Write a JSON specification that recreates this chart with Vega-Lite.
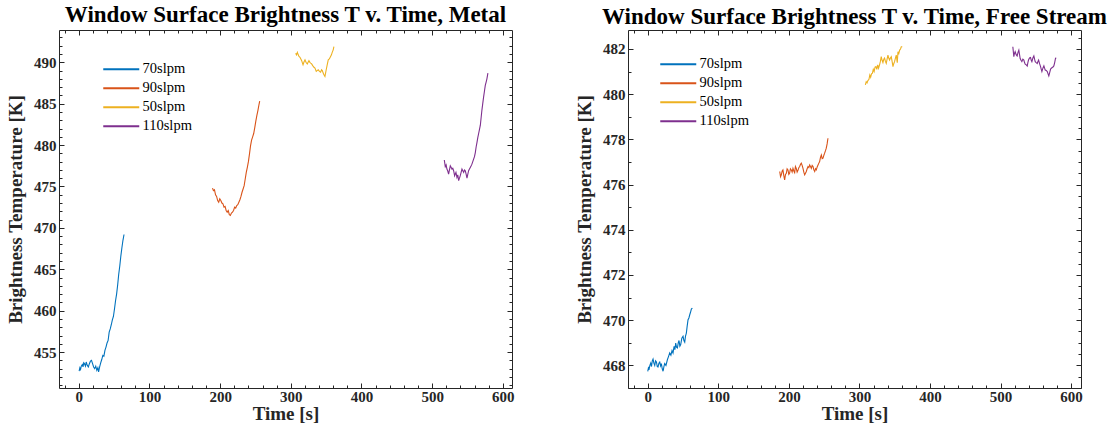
{
  "$schema": "https://vega.github.io/schema/vega-lite/v6.json",
  "background": "white",
  "padding": {"left": 6, "top": 3, "right": 0, "bottom": 0},
  "autosize": {"type": "pad"},
  "spacing": 60,
  "datasets": {
    "metal": [
      {"s":"70slpm","t":0.5,"T":452.7},{"s":"70slpm","t":1.5,"T":453.1},{"s":"70slpm","t":2.5,"T":452.9},{"s":"70slpm","t":3.5,"T":453.3},{"s":"70slpm","t":5,"T":453.5},{"s":"70slpm","t":6,"T":453.2},{"s":"70slpm","t":7,"T":453.7},{"s":"70slpm","t":8,"T":453.6},{"s":"70slpm","t":9.5,"T":453.3},{"s":"70slpm","t":10.5,"T":453.8},{"s":"70slpm","t":12,"T":453.4},{"s":"70slpm","t":13.5,"T":453.2},{"s":"70slpm","t":15,"T":453.6},{"s":"70slpm","t":16.5,"T":453.9},{"s":"70slpm","t":18,"T":454.0},{"s":"70slpm","t":19.5,"T":453.6},{"s":"70slpm","t":21,"T":453.2},{"s":"70slpm","t":22.5,"T":453.0},{"s":"70slpm","t":24,"T":453.3},{"s":"70slpm","t":25.5,"T":452.8},{"s":"70slpm","t":27,"T":453.1},{"s":"70slpm","t":28,"T":452.6},{"s":"70slpm","t":29.5,"T":453.2},{"s":"70slpm","t":31,"T":453.7},{"s":"70slpm","t":32.5,"T":454.1},{"s":"70slpm","t":34,"T":454.6},{"s":"70slpm","t":35.5,"T":454.5},{"s":"70slpm","t":37,"T":455.2},{"s":"70slpm","t":38.5,"T":455.6},{"s":"70slpm","t":40,"T":456.1},{"s":"70slpm","t":41.5,"T":456.4},{"s":"70slpm","t":43,"T":457.4},{"s":"70slpm","t":44.5,"T":457.8},{"s":"70slpm","t":46,"T":458.3},{"s":"70slpm","t":47.5,"T":458.9},{"s":"70slpm","t":49,"T":459.3},{"s":"70slpm","t":50.5,"T":460.2},{"s":"70slpm","t":52,"T":461.2},{"s":"70slpm","t":53.5,"T":462.0},{"s":"70slpm","t":55,"T":463.1},{"s":"70slpm","t":56.5,"T":464.4},{"s":"70slpm","t":58,"T":465.4},{"s":"70slpm","t":59.5,"T":466.6},{"s":"70slpm","t":61,"T":467.6},{"s":"70slpm","t":62.5,"T":468.5},{"s":"70slpm","t":64,"T":469.2},
      {"s":"90slpm","t":189.2,"T":474.8},{"s":"90slpm","t":190.5,"T":474.5},{"s":"90slpm","t":192,"T":474.6},{"s":"90slpm","t":193.5,"T":474.0},{"s":"90slpm","t":195,"T":473.8},{"s":"90slpm","t":196.5,"T":473.3},{"s":"90slpm","t":198,"T":473.1},{"s":"90slpm","t":199.5,"T":473.5},{"s":"90slpm","t":201,"T":473.3},{"s":"90slpm","t":202.5,"T":473.0},{"s":"90slpm","t":204,"T":472.9},{"s":"90slpm","t":205.5,"T":472.5},{"s":"90slpm","t":207,"T":472.6},{"s":"90slpm","t":208.5,"T":472.1},{"s":"90slpm","t":210,"T":471.9},{"s":"90slpm","t":211.5,"T":472.1},{"s":"90slpm","t":213,"T":471.6},{"s":"90slpm","t":214.5,"T":471.5},{"s":"90slpm","t":216,"T":471.8},{"s":"90slpm","t":217.5,"T":471.9},{"s":"90slpm","t":219,"T":472.1},{"s":"90slpm","t":220.5,"T":472.5},{"s":"90slpm","t":222,"T":472.4},{"s":"90slpm","t":223.5,"T":472.7},{"s":"90slpm","t":225,"T":472.8},{"s":"90slpm","t":226.5,"T":473.1},{"s":"90slpm","t":228,"T":473.4},{"s":"90slpm","t":229.5,"T":473.8},{"s":"90slpm","t":231,"T":474.3},{"s":"90slpm","t":232.5,"T":474.7},{"s":"90slpm","t":234,"T":475.1},{"s":"90slpm","t":235.5,"T":475.9},{"s":"90slpm","t":237,"T":476.7},{"s":"90slpm","t":238.5,"T":477.3},{"s":"90slpm","t":240,"T":478.0},{"s":"90slpm","t":241.5,"T":478.9},{"s":"90slpm","t":243,"T":479.9},{"s":"90slpm","t":244.5,"T":480.6},{"s":"90slpm","t":246,"T":481.0},{"s":"90slpm","t":247.5,"T":481.4},{"s":"90slpm","t":249,"T":482.1},{"s":"90slpm","t":250.5,"T":482.9},{"s":"90slpm","t":252,"T":483.6},{"s":"90slpm","t":253.5,"T":484.2},{"s":"90slpm","t":255,"T":484.9},{"s":"90slpm","t":256,"T":485.3},
      {"s":"50slpm","t":306.9,"T":491.1},{"s":"50slpm","t":308,"T":490.9},{"s":"50slpm","t":309.3,"T":491.2},{"s":"50slpm","t":310.5,"T":490.9},{"s":"50slpm","t":311.6,"T":490.7},{"s":"50slpm","t":313,"T":490.6},{"s":"50slpm","t":314.2,"T":490.4},{"s":"50slpm","t":315.4,"T":490.2},{"s":"50slpm","t":316.5,"T":489.9},{"s":"50slpm","t":317.3,"T":489.7},{"s":"50slpm","t":318.5,"T":490.0},{"s":"50slpm","t":320.1,"T":490.3},{"s":"50slpm","t":321.5,"T":490.0},{"s":"50slpm","t":323.3,"T":489.8},{"s":"50slpm","t":324.5,"T":490.0},{"s":"50slpm","t":325.7,"T":490.2},{"s":"50slpm","t":327,"T":490.0},{"s":"50slpm","t":328.2,"T":489.9},{"s":"50slpm","t":329.5,"T":489.8},{"s":"50slpm","t":331,"T":489.6},{"s":"50slpm","t":332.8,"T":489.4},{"s":"50slpm","t":334.2,"T":489.3},{"s":"50slpm","t":336,"T":488.9},{"s":"50slpm","t":337.2,"T":489.0},{"s":"50slpm","t":338.8,"T":489.1},{"s":"50slpm","t":340.5,"T":488.9},{"s":"50slpm","t":342.2,"T":488.8},{"s":"50slpm","t":343.5,"T":489.1},{"s":"50slpm","t":344.6,"T":489.0},{"s":"50slpm","t":345.8,"T":488.7},{"s":"50slpm","t":346.9,"T":488.5},{"s":"50slpm","t":348.3,"T":488.3},{"s":"50slpm","t":349.2,"T":488.7},{"s":"50slpm","t":350.1,"T":489.1},{"s":"50slpm","t":351.5,"T":489.7},{"s":"50slpm","t":353,"T":490.3},{"s":"50slpm","t":354.5,"T":490.4},{"s":"50slpm","t":356.3,"T":490.7},{"s":"50slpm","t":357.5,"T":490.9},{"s":"50slpm","t":358.6,"T":491.2},{"s":"50slpm","t":360,"T":491.5},{"s":"50slpm","t":361,"T":491.9},
      {"s":"110slpm","t":517.2,"T":478.2},{"s":"110slpm","t":518.6,"T":477.4},{"s":"110slpm","t":519.8,"T":477.6},{"s":"110slpm","t":520.9,"T":477.1},{"s":"110slpm","t":522,"T":476.9},{"s":"110slpm","t":523.3,"T":476.5},{"s":"110slpm","t":524.5,"T":477.0},{"s":"110slpm","t":525.7,"T":477.5},{"s":"110slpm","t":527,"T":477.3},{"s":"110slpm","t":528,"T":477.1},{"s":"110slpm","t":529.2,"T":477.2},{"s":"110slpm","t":530.4,"T":476.9},{"s":"110slpm","t":531.8,"T":476.3},{"s":"110slpm","t":533.7,"T":476.7},{"s":"110slpm","t":535.1,"T":476.1},{"s":"110slpm","t":536.3,"T":476.4},{"s":"110slpm","t":537.5,"T":475.7},{"s":"110slpm","t":538.7,"T":476.0},{"s":"110slpm","t":539.8,"T":476.3},{"s":"110slpm","t":541,"T":476.7},{"s":"110slpm","t":542.2,"T":477.1},{"s":"110slpm","t":543.4,"T":476.9},{"s":"110slpm","t":544.6,"T":476.7},{"s":"110slpm","t":545.8,"T":477.0},{"s":"110slpm","t":546.9,"T":476.9},{"s":"110slpm","t":548.1,"T":476.5},{"s":"110slpm","t":549.3,"T":476.0},{"s":"110slpm","t":550.5,"T":476.5},{"s":"110slpm","t":551.6,"T":476.9},{"s":"110slpm","t":552.8,"T":477.1},{"s":"110slpm","t":554,"T":477.3},{"s":"110slpm","t":555.2,"T":477.5},{"s":"110slpm","t":556.3,"T":477.7},{"s":"110slpm","t":557.5,"T":478.0},{"s":"110slpm","t":558.7,"T":478.3},{"s":"110slpm","t":559.9,"T":478.6},{"s":"110slpm","t":561.1,"T":479.1},{"s":"110slpm","t":562.3,"T":479.8},{"s":"110slpm","t":563.4,"T":480.3},{"s":"110slpm","t":564.6,"T":480.9},{"s":"110slpm","t":565.8,"T":481.4},{"s":"110slpm","t":567,"T":481.9},{"s":"110slpm","t":568.2,"T":482.4},{"s":"110slpm","t":569.3,"T":483.3},{"s":"110slpm","t":570.4,"T":484.2},{"s":"110slpm","t":571.6,"T":485.0},{"s":"110slpm","t":572.8,"T":485.8},{"s":"110slpm","t":574,"T":486.5},{"s":"110slpm","t":575.2,"T":487.2},{"s":"110slpm","t":576.4,"T":487.6},{"s":"110slpm","t":577.5,"T":488.0},{"s":"110slpm","t":578.9,"T":488.7}
    ],
    "free": [
      {"s":"70slpm","t":0,"T":467.74},{"s":"70slpm","t":1,"T":467.9},{"s":"70slpm","t":2,"T":467.85},{"s":"70slpm","t":3,"T":468.0},{"s":"70slpm","t":4.2,"T":468.1},{"s":"70slpm","t":5.3,"T":467.95},{"s":"70slpm","t":6.4,"T":468.2},{"s":"70slpm","t":7.5,"T":468.28},{"s":"70slpm","t":8.7,"T":468.1},{"s":"70slpm","t":9.9,"T":468.0},{"s":"70slpm","t":11.1,"T":468.2},{"s":"70slpm","t":12.3,"T":468.15},{"s":"70slpm","t":13.5,"T":467.95},{"s":"70slpm","t":14.6,"T":467.93},{"s":"70slpm","t":15.8,"T":468.1},{"s":"70slpm","t":17,"T":468.15},{"s":"70slpm","t":18.2,"T":467.98},{"s":"70slpm","t":19.3,"T":468.08},{"s":"70slpm","t":20.5,"T":467.85},{"s":"70slpm","t":21.7,"T":467.74},{"s":"70slpm","t":22.9,"T":467.95},{"s":"70slpm","t":24,"T":468.08},{"s":"70slpm","t":25.8,"T":468.0},{"s":"70slpm","t":27.8,"T":468.25},{"s":"70slpm","t":29.5,"T":468.4},{"s":"70slpm","t":31.1,"T":468.55},{"s":"70slpm","t":32.8,"T":468.45},{"s":"70slpm","t":34.4,"T":468.66},{"s":"70slpm","t":35.8,"T":468.55},{"s":"70slpm","t":37.3,"T":468.84},{"s":"70slpm","t":38.5,"T":468.7},{"s":"70slpm","t":39.6,"T":468.99},{"s":"70slpm","t":40.8,"T":468.8},{"s":"70slpm","t":42,"T":468.77},{"s":"70slpm","t":43.2,"T":469.0},{"s":"70slpm","t":44.3,"T":469.1},{"s":"70slpm","t":45.5,"T":468.85},{"s":"70slpm","t":46.7,"T":468.92},{"s":"70slpm","t":48.3,"T":469.2},{"s":"70slpm","t":50,"T":469.29},{"s":"70slpm","t":51.2,"T":469.1},{"s":"70slpm","t":52.4,"T":469.03},{"s":"70slpm","t":53.5,"T":469.3},{"s":"70slpm","t":54.7,"T":469.43},{"s":"70slpm","t":55.9,"T":469.75},{"s":"70slpm","t":57.1,"T":470.02},{"s":"70slpm","t":58.3,"T":470.1},{"s":"70slpm","t":59.5,"T":470.24},{"s":"70slpm","t":60.6,"T":470.35},{"s":"70slpm","t":61.8,"T":470.49},{"s":"70slpm","t":63.2,"T":470.54},
      {"s":"90slpm","t":187,"T":476.58},{"s":"90slpm","t":188.2,"T":476.35},{"s":"90slpm","t":189.3,"T":476.43},{"s":"90slpm","t":190.5,"T":476.6},{"s":"90slpm","t":191.6,"T":476.65},{"s":"90slpm","t":192.8,"T":476.4},{"s":"90slpm","t":194,"T":476.21},{"s":"90slpm","t":195.2,"T":476.45},{"s":"90slpm","t":196.4,"T":476.5},{"s":"90slpm","t":197.5,"T":476.7},{"s":"90slpm","t":198.7,"T":476.65},{"s":"90slpm","t":199.9,"T":476.45},{"s":"90slpm","t":201,"T":476.5},{"s":"90slpm","t":202.2,"T":476.7},{"s":"90slpm","t":203.4,"T":476.65},{"s":"90slpm","t":204.6,"T":476.55},{"s":"90slpm","t":205.8,"T":476.72},{"s":"90slpm","t":207,"T":476.6},{"s":"90slpm","t":208.2,"T":476.53},{"s":"90slpm","t":209.3,"T":476.8},{"s":"90slpm","t":210.5,"T":476.72},{"s":"90slpm","t":211.7,"T":476.55},{"s":"90slpm","t":212.9,"T":476.63},{"s":"90slpm","t":214.1,"T":476.75},{"s":"90slpm","t":215.3,"T":476.8},{"s":"90slpm","t":216.5,"T":476.9},{"s":"90slpm","t":217.6,"T":476.95},{"s":"90slpm","t":218.8,"T":476.85},{"s":"90slpm","t":220,"T":476.72},{"s":"90slpm","t":221.2,"T":476.55},{"s":"90slpm","t":222.4,"T":476.43},{"s":"90slpm","t":223.5,"T":476.5},{"s":"90slpm","t":224.7,"T":476.58},{"s":"90slpm","t":225.9,"T":476.7},{"s":"90slpm","t":227.1,"T":476.8},{"s":"90slpm","t":228.3,"T":476.75},{"s":"90slpm","t":229.5,"T":476.87},{"s":"90slpm","t":230.6,"T":476.8},{"s":"90slpm","t":231.8,"T":476.72},{"s":"90slpm","t":233,"T":476.85},{"s":"90slpm","t":234.2,"T":476.8},{"s":"90slpm","t":235.4,"T":476.65},{"s":"90slpm","t":236.6,"T":476.58},{"s":"90slpm","t":237.7,"T":476.7},{"s":"90slpm","t":238.9,"T":476.65},{"s":"90slpm","t":240.1,"T":476.78},{"s":"90slpm","t":241.3,"T":476.87},{"s":"90slpm","t":242.5,"T":476.95},{"s":"90slpm","t":243.6,"T":477.02},{"s":"90slpm","t":244.8,"T":477.2},{"s":"90slpm","t":246,"T":477.31},{"s":"90slpm","t":247.2,"T":477.15},{"s":"90slpm","t":248.4,"T":477.17},{"s":"90slpm","t":249.6,"T":477.3},{"s":"90slpm","t":250.7,"T":477.39},{"s":"90slpm","t":251.9,"T":477.5},{"s":"90slpm","t":253,"T":477.61},{"s":"90slpm","t":254.2,"T":477.8},{"s":"90slpm","t":255.4,"T":478.05},
      {"s":"50slpm","t":308.4,"T":480.41},{"s":"50slpm","t":309.6,"T":480.55},{"s":"50slpm","t":310.8,"T":480.5},{"s":"50slpm","t":312,"T":480.6},{"s":"50slpm","t":313.5,"T":480.66},{"s":"50slpm","t":314.7,"T":480.85},{"s":"50slpm","t":315.9,"T":480.75},{"s":"50slpm","t":317.1,"T":480.9},{"s":"50slpm","t":318.4,"T":480.93},{"s":"50slpm","t":319.6,"T":481.1},{"s":"50slpm","t":320.8,"T":481.0},{"s":"50slpm","t":322.1,"T":481.2},{"s":"50slpm","t":323.4,"T":481.22},{"s":"50slpm","t":324.6,"T":481.1},{"s":"50slpm","t":325.9,"T":481.3},{"s":"50slpm","t":327.1,"T":481.15},{"s":"50slpm","t":328.5,"T":481.3},{"s":"50slpm","t":329.7,"T":481.45},{"s":"50slpm","t":330.9,"T":481.66},{"s":"50slpm","t":332.1,"T":481.5},{"s":"50slpm","t":333.3,"T":481.4},{"s":"50slpm","t":334.5,"T":481.55},{"s":"50slpm","t":335.6,"T":481.6},{"s":"50slpm","t":336.8,"T":481.45},{"s":"50slpm","t":338,"T":481.36},{"s":"50slpm","t":339.2,"T":481.55},{"s":"50slpm","t":340.4,"T":481.73},{"s":"50slpm","t":341.5,"T":481.6},{"s":"50slpm","t":342.7,"T":481.51},{"s":"50slpm","t":343.9,"T":481.6},{"s":"50slpm","t":345.1,"T":481.66},{"s":"50slpm","t":346.3,"T":481.45},{"s":"50slpm","t":347.5,"T":481.22},{"s":"50slpm","t":348.6,"T":481.35},{"s":"50slpm","t":349.8,"T":481.44},{"s":"50slpm","t":351,"T":481.6},{"s":"50slpm","t":352.2,"T":481.73},{"s":"50slpm","t":353.6,"T":481.39},{"s":"50slpm","t":354.6,"T":481.88},{"s":"50slpm","t":355.8,"T":481.8},{"s":"50slpm","t":357,"T":481.95},{"s":"50slpm","t":358.2,"T":482.0},{"s":"50slpm","t":359.3,"T":482.1},{"s":"50slpm","t":360.7,"T":482.1},
      {"s":"110slpm","t":517.4,"T":482.1},{"s":"110slpm","t":518.8,"T":481.66},{"s":"110slpm","t":519.7,"T":481.8},{"s":"110slpm","t":520.7,"T":481.88},{"s":"110slpm","t":522.1,"T":481.75},{"s":"110slpm","t":523.5,"T":481.69},{"s":"110slpm","t":524.7,"T":481.85},{"s":"110slpm","t":525.9,"T":481.95},{"s":"110slpm","t":526.9,"T":481.75},{"s":"110slpm","t":527.8,"T":481.58},{"s":"110slpm","t":529,"T":481.5},{"s":"110slpm","t":530.2,"T":481.44},{"s":"110slpm","t":531.6,"T":481.55},{"s":"110slpm","t":533,"T":481.51},{"s":"110slpm","t":534,"T":481.4},{"s":"110slpm","t":534.9,"T":481.33},{"s":"110slpm","t":536.4,"T":481.3},{"s":"110slpm","t":537.8,"T":481.25},{"s":"110slpm","t":538.7,"T":481.4},{"s":"110slpm","t":539.6,"T":481.51},{"s":"110slpm","t":541,"T":481.6},{"s":"110slpm","t":542.5,"T":481.62},{"s":"110slpm","t":543.5,"T":481.5},{"s":"110slpm","t":544.4,"T":481.44},{"s":"110slpm","t":545.8,"T":481.6},{"s":"110slpm","t":547.2,"T":481.69},{"s":"110slpm","t":548.2,"T":481.55},{"s":"110slpm","t":549.1,"T":481.44},{"s":"110slpm","t":550.5,"T":481.4},{"s":"110slpm","t":552,"T":481.36},{"s":"110slpm","t":553,"T":481.45},{"s":"110slpm","t":553.9,"T":481.51},{"s":"110slpm","t":555.3,"T":481.35},{"s":"110slpm","t":556.7,"T":481.22},{"s":"110slpm","t":557.7,"T":481.1},{"s":"110slpm","t":558.6,"T":481.0},{"s":"110slpm","t":560,"T":481.15},{"s":"110slpm","t":561.4,"T":481.25},{"s":"110slpm","t":562.4,"T":481.15},{"s":"110slpm","t":563.3,"T":481.07},{"s":"110slpm","t":564.7,"T":481.05},{"s":"110slpm","t":566.2,"T":481.0},{"s":"110slpm","t":567.3,"T":480.9},{"s":"110slpm","t":568.4,"T":480.81},{"s":"110slpm","t":569.6,"T":480.95},{"s":"110slpm","t":570.9,"T":481.11},{"s":"110slpm","t":572,"T":481.15},{"s":"110slpm","t":573.2,"T":481.18},{"s":"110slpm","t":574.3,"T":481.2},{"s":"110slpm","t":575.5,"T":481.25},{"s":"110slpm","t":576.7,"T":481.4},{"s":"110slpm","t":577.9,"T":481.59},{"s":"110slpm","t":579,"T":481.6}
    ]
  },
  "hconcat": [
    {
      "width": 453,
      "height": 358,
      "title": {"text": "Window Surface Brightness T v. Time, Metal", "frame": "group", "anchor": "middle", "font": "Liberation Serif", "fontSize": 23, "fontWeight": "bold", "color": "#000000", "offset": 3},
      "data": {"name": "metal"},
      "layer": [
        {
          "mark": {"type": "line", "strokeWidth": 1.1},
          "encoding": {
            "x": {"field": "t", "type": "quantitative", "scale": {"domain": [-28, 613], "nice": false, "zero": false},
              "axis": {"orient": "bottom", "values": [-20,0,20,40,60,80,100,120,140,160,180,200,220,240,260,280,300,320,340,360,380,400,420,440,460,480,500,520,540,560,580,600],
                "domain": false, "grid": false, "tickColor": "#262626", "tickWidth": 1,
                "tickSize": {"condition": {"test": "datum.value % 100 === 0", "value": -5}, "value": -3},
                "labelExpr": "datum.value % 100 === 0 ? datum.label : ''", "labelOverlap": false, "labelFlush": false, "labelBound": false,
                "labelFont": "Liberation Serif", "labelFontSize": 15, "labelFontWeight": "bold", "labelColor": "#262626", "labelPadding": 6,
                "title": "Time [s]", "titleFont": "Liberation Serif", "titleFontSize": 19, "titleFontWeight": "bold", "titleColor": "#262626", "titlePadding": -2}},
            "y": {"field": "T", "type": "quantitative", "scale": {"domain": [450.66, 493.9], "nice": false, "zero": false},
              "axis": {"orient": "left", "values": [451,452,453,454,455,456,457,458,459,460,461,462,463,464,465,466,467,468,469,470,471,472,473,474,475,476,477,478,479,480,481,482,483,484,485,486,487,488,489,490,491,492,493],
                "domain": false, "grid": false, "tickColor": "#262626", "tickWidth": 1,
                "tickSize": {"condition": {"test": "datum.value % 5 === 0", "value": -5}, "value": -3},
                "labelExpr": "datum.value % 5 === 0 ? datum.label : ''", "labelOverlap": false, "labelBound": false, "labelFlush": false,
                "labelFont": "Liberation Serif", "labelFontSize": 15, "labelFontWeight": "bold", "labelColor": "#262626", "labelPadding": 8,
                "title": "Brightness Temperature [K]", "titleFont": "Liberation Serif", "titleFontSize": 19, "titleFontWeight": "bold", "titleColor": "#262626", "titlePadding": 8}},
            "color": {"field": "s", "type": "nominal",
              "scale": {"domain": ["70slpm", "90slpm", "50slpm", "110slpm"], "range": ["#0072BD", "#D95319", "#EDB120", "#7E2F8E"]},
              "legend": {"title": null, "orient": "none", "legendX": 68, "legendY": 32, "symbolType": "M-6.2,0H1", "symbolSize": 100, "symbolStrokeWidth": 1.8, "labelFont": "Liberation Serif", "labelFontSize": 14.5, "labelColor": "#000000", "labelOffset": 1, "rowPadding": 4, "padding": 0}}
          }
        },
        {
          "mark": {"type": "line", "opacity": 0},
          "encoding": {
            "x": {"field": "t", "type": "quantitative",
              "axis": {"orient": "top", "values": [-20,0,20,40,60,80,100,120,140,160,180,200,220,240,260,280,300,320,340,360,380,400,420,440,460,480,500,520,540,560,580,600],
                "domain": false, "grid": false, "labels": false, "title": null, "tickColor": "#262626", "tickWidth": 1,
                "tickSize": {"condition": {"test": "datum.value % 100 === 0", "value": -5}, "value": -3}}},
            "y": {"field": "T", "type": "quantitative",
              "axis": {"orient": "right", "values": [451,452,453,454,455,456,457,458,459,460,461,462,463,464,465,466,467,468,469,470,471,472,473,474,475,476,477,478,479,480,481,482,483,484,485,486,487,488,489,490,491,492,493],
                "domain": false, "grid": false, "labels": false, "title": null, "tickColor": "#262626", "tickWidth": 1,
                "tickSize": {"condition": {"test": "datum.value % 5 === 0", "value": -5}, "value": -3}}},
            "detail": {"field": "s"}
          }
        }
      ],
      "resolve": {"axis": {"x": "independent", "y": "independent"}}
    },
    {
      "width": 453,
      "height": 358,
      "title": {"text": "Window Surface Brightness T v. Time, Free Stream", "frame": "group", "anchor": "middle", "font": "Liberation Serif", "fontSize": 23, "fontWeight": "bold", "color": "#000000", "offset": 1},
      "data": {"name": "free"},
      "layer": [
        {
          "mark": {"type": "line", "strokeWidth": 1.1},
          "encoding": {
            "x": {"field": "t", "type": "quantitative", "scale": {"domain": [-28, 614], "nice": false, "zero": false},
              "axis": {"orient": "bottom", "values": [-20,0,20,40,60,80,100,120,140,160,180,200,220,240,260,280,300,320,340,360,380,400,420,440,460,480,500,520,540,560,580,600],
                "domain": false, "grid": false, "tickColor": "#262626", "tickWidth": 1,
                "tickSize": {"condition": {"test": "datum.value % 100 === 0", "value": -5}, "value": -3},
                "labelExpr": "datum.value % 100 === 0 ? datum.label : ''", "labelOverlap": false, "labelFlush": false, "labelBound": false,
                "labelFont": "Liberation Serif", "labelFontSize": 15, "labelFontWeight": "bold", "labelColor": "#262626", "labelPadding": 6,
                "title": "Time [s]", "titleFont": "Liberation Serif", "titleFontSize": 19, "titleFontWeight": "bold", "titleColor": "#262626", "titlePadding": -2}},
            "y": {"field": "T", "type": "quantitative", "scale": {"domain": [467.0, 482.84], "nice": false, "zero": false},
              "axis": {"orient": "left", "values": [467,467.5,468,468.5,469,469.5,470,470.5,471,471.5,472,472.5,473,473.5,474,474.5,475,475.5,476,476.5,477,477.5,478,478.5,479,479.5,480,480.5,481,481.5,482,482.5],
                "domain": false, "grid": false, "tickColor": "#262626", "tickWidth": 1,
                "tickSize": {"condition": {"test": "datum.value % 2 === 0", "value": -5}, "value": -3},
                "format": "d",
                "labelExpr": "datum.value % 2 === 0 ? datum.label : ''", "labelOverlap": false, "labelBound": false, "labelFlush": false,
                "labelFont": "Liberation Serif", "labelFontSize": 15, "labelFontWeight": "bold", "labelColor": "#262626", "labelPadding": 8,
                "title": "Brightness Temperature [K]", "titleFont": "Liberation Serif", "titleFontSize": 19, "titleFontWeight": "bold", "titleColor": "#262626", "titlePadding": 8}},
            "color": {"field": "s", "type": "nominal",
              "scale": {"domain": ["70slpm", "90slpm", "50slpm", "110slpm"], "range": ["#0072BD", "#D95319", "#EDB120", "#7E2F8E"]},
              "legend": {"title": null, "orient": "none", "legendX": 56, "legendY": 27, "symbolType": "M-6.2,0H1", "symbolSize": 100, "symbolStrokeWidth": 1.8, "labelFont": "Liberation Serif", "labelFontSize": 14.5, "labelColor": "#000000", "labelOffset": 1, "rowPadding": 4, "padding": 0}}
          }
        },
        {
          "mark": {"type": "line", "opacity": 0},
          "encoding": {
            "x": {"field": "t", "type": "quantitative",
              "axis": {"orient": "top", "values": [-20,0,20,40,60,80,100,120,140,160,180,200,220,240,260,280,300,320,340,360,380,400,420,440,460,480,500,520,540,560,580,600],
                "domain": false, "grid": false, "labels": false, "title": null, "tickColor": "#262626", "tickWidth": 1,
                "tickSize": {"condition": {"test": "datum.value % 100 === 0", "value": -5}, "value": -3}}},
            "y": {"field": "T", "type": "quantitative",
              "axis": {"orient": "right", "values": [467,467.5,468,468.5,469,469.5,470,470.5,471,471.5,472,472.5,473,473.5,474,474.5,475,475.5,476,476.5,477,477.5,478,478.5,479,479.5,480,480.5,481,481.5,482,482.5],
                "domain": false, "grid": false, "labels": false, "title": null, "tickColor": "#262626", "tickWidth": 1,
                "tickSize": {"condition": {"test": "datum.value % 2 === 0", "value": -5}, "value": -3}}},
            "detail": {"field": "s"}
          }
        }
      ],
      "resolve": {"axis": {"x": "independent", "y": "independent"}}
    }
  ],
  "resolve": {"scale": {"color": "independent"}},
  "config": {"view": {"stroke": "#262626", "strokeWidth": 1}}
}
